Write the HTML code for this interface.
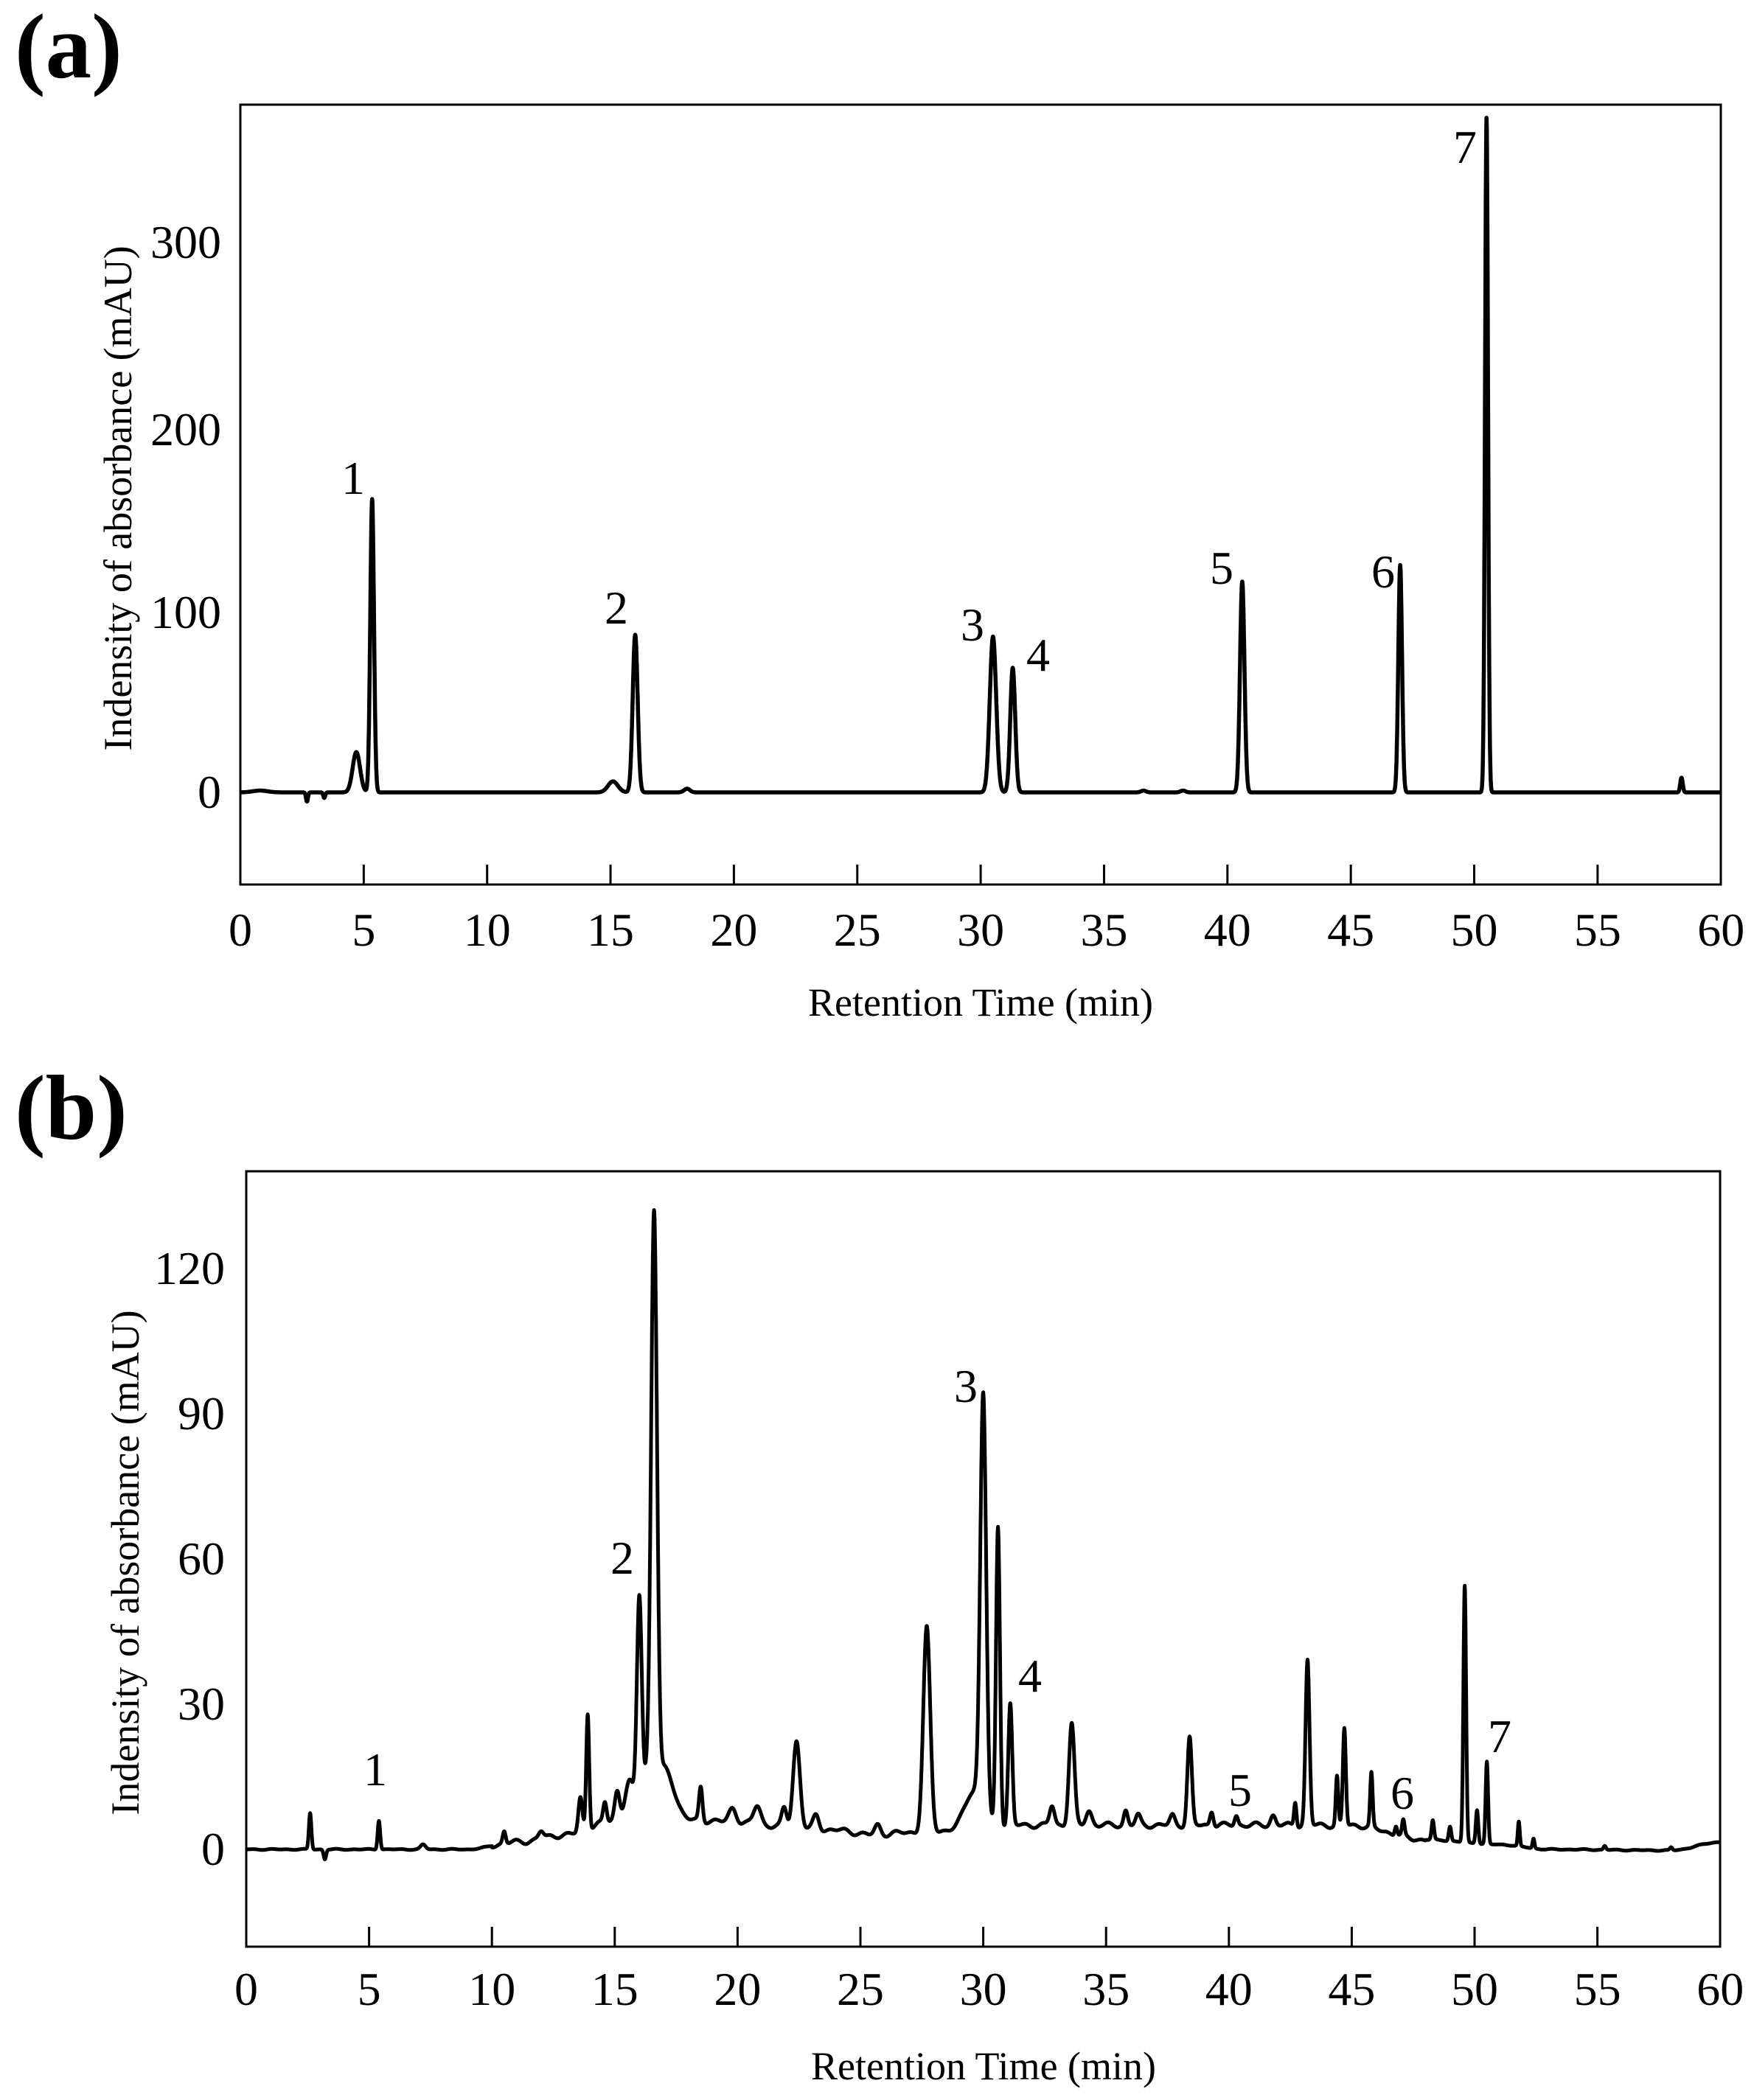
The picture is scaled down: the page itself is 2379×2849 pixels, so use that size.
<!DOCTYPE html>
<html><head><meta charset="utf-8"><style>
body{margin:0;background:#fff;}
svg{display:block;}
text{font-family:"Liberation Serif",serif;fill:#000;}
</style></head><body>
<svg id="s" width="2379" height="2849" viewBox="0 0 2379 2849" xmlns="http://www.w3.org/2000/svg">
<text x="20" y="105" font-size="125" font-weight="bold">(a)</text>
<rect x="326" y="142" width="2008" height="1058" fill="none" stroke="#000" stroke-width="3"/>
<g id="ta"></g>
<path id="pa" fill="none" stroke="#000" stroke-width="5.5" stroke-linejoin="round"/>
<g font-size="64" text-anchor="end">
<text x="300" y="1096">0</text><text x="300" y="852">100</text><text x="300" y="604">200</text><text x="300" y="350">300</text>
</g>
<text transform="translate(178,676) rotate(-90)" font-size="54" text-anchor="middle">Indensity of absorbance (mAU)</text>
<text x="1330" y="1378" font-size="54" text-anchor="middle">Retention Time (min)</text>
<g font-size="64" text-anchor="middle">
<text x="479" y="670">1</text><text x="836" y="846">2</text><text x="1319" y="869">3</text><text x="1408" y="910">4</text><text x="1657" y="792">5</text><text x="1876" y="797">6</text><text x="1987" y="221">7</text>
</g>

<text x="20" y="1545" font-size="125" font-weight="bold">(b)</text>
<rect x="334" y="1589" width="1999" height="1052" fill="none" stroke="#000" stroke-width="3"/>
<g id="tb"></g>
<path id="pb" fill="none" stroke="#000" stroke-width="5" stroke-linejoin="round"/>
<g font-size="64" text-anchor="end">
<text x="305" y="2530">0</text><text x="305" y="2333">30</text><text x="305" y="2136">60</text><text x="305" y="1939">90</text><text x="305" y="1742">120</text>
</g>
<text transform="translate(188,2120) rotate(-90)" font-size="54" text-anchor="middle">Indensity of absorbance (mAU)</text>
<text x="1334" y="2821" font-size="54" text-anchor="middle">Retention Time (min)</text>
<g font-size="64" text-anchor="middle">
<text x="509" y="2422">1</text><text x="844" y="2135">2</text><text x="1310" y="1902">3</text><text x="1397" y="2295">4</text><text x="1682" y="2450">5</text><text x="1902" y="2454">6</text><text x="2034" y="2377">7</text>
</g>
</svg>
<script>
function gauss(t,c,h,s){var d=(t-c)/s;return h*Math.exp(-0.5*d*d);}
function build(x0,xs,y0,ys,f,step){var d="";for(var t=0;t<=60.0001;t+=step){var v=f(t);d+=(t==0?"M":"L")+(x0+t*xs).toFixed(1)+" "+(y0-v*ys).toFixed(1);}return d;}
function ticks(id,x0,xs,yb,yl){var g=document.getElementById(id),h="",l="";for(var i=0;i<=12;i++){var x=x0+i*5*xs;if(i>0&&i<12)h+='<line x1="'+x+'" y1="'+yb+'" x2="'+x+'" y2="'+(yb-27)+'" stroke="#000" stroke-width="3"/>';l+='<text x="'+x+'" y="'+yl+'" font-size="64" text-anchor="middle">'+(i*5)+'</text>';}g.innerHTML=h+l;}
var A=[[4.7,22,0.15],[5.34,160,0.075],[15.1,6,0.2],[16.0,86,0.1],[18.1,2,0.12],[30.5,85,0.13],[31.3,68,0.1],[40.6,115,0.09],[47.0,124,0.075],[50.5,368,0.06],[58.4,8,0.05],[2.7,-5,0.04],[3.4,-3,0.04],[0.8,1,0.3],[36.6,1,0.1],[38.2,1,0.1]];
function fa(t){var v=0;for(var i=0;i<A.length;i++)v+=gauss(t,A[i][0],A[i][1],A[i][2]);return v;}
var B=[[2.6,7.5,0.05],[3.2,-2,0.05],[5.4,6,0.05],[7.2,1,0.1],[10.5,2.5,0.06],[12.0,1.5,0.1],[13.6,7,0.08],[13.9,24,0.06],[14.6,4,0.07],[15.1,6,0.1],[15.6,8,0.18],[16.0,45,0.1],[16.3,8,0.15],[16.6,120,0.12],[16.9,8,0.3],[17.3,5,0.3],[18.5,7,0.07],[19.8,3,0.15],[20.8,4,0.15],[21.9,4,0.1],[22.4,18,0.14],[23.2,3,0.12],[25.7,2,0.12],[27.7,42,0.14],[30.0,86,0.12],[29.6,8,0.35],[30.6,62,0.08],[31.1,25,0.08],[32.8,4,0.1],[33.6,21,0.11],[34.3,3,0.12],[35.8,3,0.08],[36.3,2,0.1],[37.7,2,0.1],[38.4,18,0.09],[39.3,3,0.07],[40.3,2,0.07],[41.8,2,0.1],[42.7,5,0.05],[43.2,34,0.08],[44.4,10,0.05],[44.7,20,0.06],[45.8,11,0.05],[46.8,2,0.05],[47.1,3,0.05],[48.3,4,0.05],[49.0,3,0.05],[49.6,53,0.055],[50.1,7,0.05],[50.5,17,0.05],[51.8,5,0.04],[52.4,2,0.04],[55.3,0.8,0.05],[58,0.6,0.05]];
function base(t){var pts=[[0,0],[9,0],[11,1.5],[13,3],[15,6],[18,6],[24,4],[25.5,3],[27,3.5],[29,4],[31.5,5],[45,5],[48,2],[51,1],[53,0],[58,-0.2],[60,1.5]];for(var i=1;i<pts.length;i++){if(t<=pts[i][0]){var a=pts[i-1],b=pts[i],u=(t-a[0])/(b[0]-a[0]);u=u*u*(3-2*u);return a[1]+(b[1]-a[1])*u;}}return 1.5;}
function fb(t){var v=base(t);for(var i=0;i<B.length;i++)v+=gauss(t,B[i][0],B[i][1],B[i][2]);v+=0.6*Math.sin(t*7.3)*Math.sin(t*2.1)*(t>10&&t<48?1:0.2);return v;}
document.getElementById("pa").setAttribute("d",build(326,33.47,1075,2.487,fa,0.01));
document.getElementById("pb").setAttribute("d",build(334,33.32,2509,6.567,fb,0.01));
ticks("ta",326,33.47,1200,1283);
ticks("tb",334,33.32,2641,2720);
</script>
</body></html>
